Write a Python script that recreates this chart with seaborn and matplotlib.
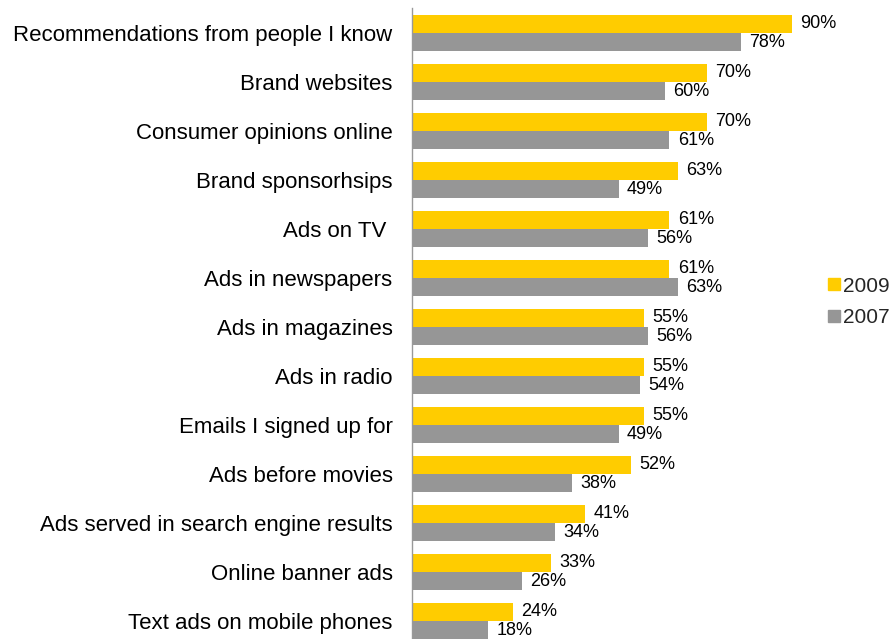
import pandas as pd
import seaborn as sns
import matplotlib.pyplot as plt
from matplotlib.lines import Line2D

categories = [
    "Recommendations from people I know",
    "Brand websites",
    "Consumer opinions online",
    "Brand sponsorhsips",
    "Ads on TV ",
    "Ads in newspapers",
    "Ads in magazines",
    "Ads in radio",
    "Emails I signed up for",
    "Ads before movies",
    "Ads served in search engine results",
    "Online banner ads",
    "Text ads on mobile phones",
]
values_2009 = [90, 70, 70, 63, 61, 61, 55, 55, 55, 52, 41, 33, 24]
values_2007 = [78, 60, 61, 49, 56, 63, 56, 54, 49, 38, 34, 26, 18]
years = ["2009", "2007"]
colors = {"2009": "#FFCC00", "2007": "#969696"}

df = pd.DataFrame({
    "category": categories * 2,
    "value": values_2009 + values_2007,
    "year": ["2009"] * len(categories) + ["2007"] * len(categories),
})

sns.set_style("white")
plt.rcParams["font.family"] = ["Liberation Sans", "DejaVu Sans"]

fig = plt.figure(figsize=(8.95, 6.39), dpi=100)
ax = fig.add_axes([412 / 895, -0.0102, 464 / 895, 0.9969])

sns.barplot(
    data=df, y="category", x="value", hue="year",
    hue_order=years, order=categories, palette=colors,
    orient="h", width=0.74, saturation=1, linewidth=0,
    ax=ax, legend=False,
)

for container in ax.containers:
    ax.bar_label(container, fmt="%d%%", padding=6, fontsize=13, color="black")

n = len(categories)
ax.set_xlim(0, 110)
ax.set_ylim(n - 0.5, -0.5)
ax.set_xlabel("")
ax.set_ylabel("")
ax.set_xticks([])
ax.set_yticks(range(n))
ax.set_yticklabels(categories, fontsize=16, color="black")
ax.tick_params(axis="y", which="major", length=0, pad=14)
ax.set_yticks([i - 0.5 for i in range(n + 1)], minor=True)
ax.tick_params(axis="y", which="minor", length=6, color="#999999", width=1)

for side in ["top", "right", "bottom"]:
    ax.spines[side].set_visible(False)
ax.spines["left"].set_color("#999999")
ax.spines["left"].set_linewidth(1)

handles = [
    Line2D([], [], marker="s", linestyle="none", markersize=8.5,
           markerfacecolor=colors[y], markeredgecolor=colors[y])
    for y in years
]
fig.legend(
    handles, years, loc="center left", bbox_to_anchor=(817 / 895, 1 - 302 / 639),
    frameon=False, fontsize=15, handletextpad=0.05, handlelength=0.8,
    labelspacing=0.6, borderaxespad=0,
)

fig.savefig("out.png", dpi=100)
